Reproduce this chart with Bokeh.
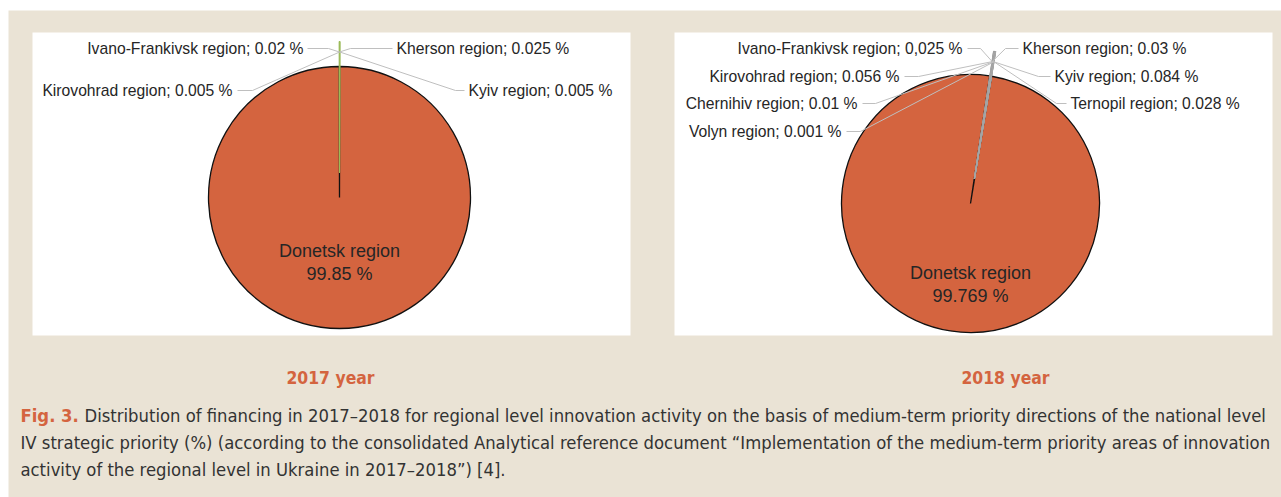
import numpy as np
from bokeh.plotting import figure
from bokeh.models import Range1d, ColumnDataSource
from bokeh.core.properties import value
from bokeh.embed import file_html
from bokeh.resources import INLINE

# ---------------- data ----------------
regions_2017 = ["Ivano-Frankivsk region", "Kherson region", "Kirovohrad region", "Kyiv region", "Donetsk region"]
values_2017 = [0.02, 0.025, 0.005, 0.005, 99.85]
value_text_2017 = ["0.02 %", "0.025 %", "0.005 %", " 0.005 %", "99.85 %"]

regions_2018 = ["Ivano-Frankivsk region", "Kherson region", "Kirovohrad region", "Kyiv region",
                "Chernihiv region", "Ternopil region", "Volyn region", "Donetsk region"]
values_2018 = [0.025, 0.03, 0.056, 0.084, 0.01, 0.028, 0.001, 99.769]
value_text_2018 = ["0,025 %", "0.03 %", "0.056 %", "0.084 %", "0.01 %", "0.028 %", "0.001 %", "99.769 %"]

years = ["2017 year", "2018 year"]
fig_label = "Fig. 3."
caption_lines = [
    "Distribution of financing in 2017\u20132018 for regional level innovation activity on the basis of medium-term priority directions of the national level",
    "IV strategic priority (%) (according to the consolidated Analytical reference document \u201cImplementation of the medium-term priority areas of innovation",
    "activity of the regional level in Ukraine in 2017\u20132018\u201d) [4].",
]

# ---------------- styling ----------------
BEIGE = "#EAE3D5"
ORANGE = "#D4643F"
TXT = "#262626"
LEAD = "#BFBFBF"
LBL_FONT = value("Liberation Sans")
NARROW = value("DejaVu Sans Condensed")

W, H = 1281, 497


def Y(yr):
    return H - yr


p = figure(width=W, height=H, x_range=Range1d(0, W), y_range=Range1d(0, H),
           output_backend="svg", toolbar_location=None, min_border=0,
           background_fill_color="white", border_fill_color="white", outline_line_color=None)
p.axis.visible = False
p.grid.visible = False

# background + panels
p.quad(left=[8], right=[W], bottom=[0], top=[Y(10)], fill_color=BEIGE, line_color=None)
p.quad(left=[32, 674], right=[630, 1272], bottom=[Y(335)] * 2, top=[Y(32)] * 2,
       fill_color="white", line_color=None)


def draw_pie(cx, cy, r, explode, rot_deg, regions, values, vtexts, small_color, small_line,
             label_layout, inner_pos):
    vals = np.array(values, dtype=float)
    total = vals.sum()
    small = vals[:-1]
    small_deg = small.sum() / total * 360.0
    start_cw = rot_deg - small_deg / 2.0
    cum = np.concatenate([[0], np.cumsum(vals)]) / total * 360.0
    a0 = start_cw + cum[:-1]
    a1 = start_cw + cum[1:]
    st = np.radians(90 - a1)
    en = np.radians(90 - a0)
    mid = (st + en) / 2.0
    Y0 = Y(cy)
    # big slice (last)
    p.wedge(x=[cx], y=[Y0], radius=r, start_angle=[st[-1]], end_angle=[en[-1]],
            fill_color=ORANGE, line_color="#111111", line_width=1.3)
    # small exploded slices
    n = len(small)
    sx = cx + explode * np.cos(mid[:n])
    sy = Y0 + explode * np.sin(mid[:n])
    p.wedge(x=sx, y=sy, radius=r, start_angle=st[:n], end_angle=en[:n],
            fill_color=small_color, line_color=small_line, line_width=1)
    # leader lines
    ax = cx + (explode + 0.92 * r) * np.cos(mid[:n])
    ay = Y0 + (explode + 0.92 * r) * np.sin(mid[:n])
    xs, ys = [], []
    tx, ty, tt, talign = [], [], [], []
    for i in range(n):
        (lx, ly, align, e1, e2) = label_layout[i]
        xs.append([e1, e2, ax[i]])
        ys.append([Y(ly), Y(ly), ay[i]])
        tx.append(lx)
        ty.append(Y(ly))
        tt.append(f"{regions[i]}; {vtexts[i]}")
        talign.append(align)
    p.multi_line(xs=xs, ys=ys, line_color=LEAD, line_width=1)
    src = ColumnDataSource(dict(x=tx, y=ty, t=tt, a=talign))
    p.text(x="x", y="y", text="t", text_align="a", text_baseline="middle", source=src,
           text_font=LBL_FONT, text_font_size="15.7px", text_color=TXT)
    ix, iy1, iy2 = inner_pos
    p.text(x=[ix, ix], y=[Y(iy1), Y(iy2)], text=[regions[-1], vtexts[-1]],
           text_align="center", text_baseline="middle",
           text_font=LBL_FONT, text_font_size="18px", text_color=TXT)


layout_2017 = [
    (303, 48, "right", 307, 328),
    (396, 48, "left", 392, 350),
    (232, 90, "right", 237, 252),
    (468, 90, "left", 464, 455),
]
draw_pie(339, 197, 131, 25, 0.0, regions_2017, values_2017, value_text_2017,
         "#9BBB59", "#9BBB59", layout_2017, (339, 250, 273))

layout_2018 = [
    (962, 48, "right", 967, 980),
    (1022, 48, "left", 1018, 1005),
    (899, 76, "right", 904, 918),
    (1054, 76, "left", 1050, 1038),
    (857, 103, "right", 862, 875),
    (1070, 103, "left", 1066, 1056),
    (841, 131, "right", 846, 860),
]
draw_pie(970, 203, 129, 25, 9.0, regions_2018, values_2018, value_text_2018,
         "#333333", "#A6A6A6", layout_2018, (970, 272, 295))

# year titles
p.text(x=[330, 1005], y=[Y(377)] * 2, text=years, text_align="center", text_baseline="middle",
       text_font=NARROW, text_font_style="bold", text_font_size="17.4px", text_color=ORANGE)

# caption
p.text(x=[20], y=[Y(415)], text=[fig_label], text_align="left", text_baseline="middle",
       text_font=NARROW, text_font_style="bold", text_font_size="18.3px", text_color=ORANGE)
p.text(x=[84, 20, 20], y=[Y(415), Y(442), Y(469)], text=caption_lines,
       text_align="left", text_baseline="middle",
       text_font=NARROW, text_font_size="18.3px", text_color="#333333")

open("out.html", "w").write(file_html(p, INLINE))
